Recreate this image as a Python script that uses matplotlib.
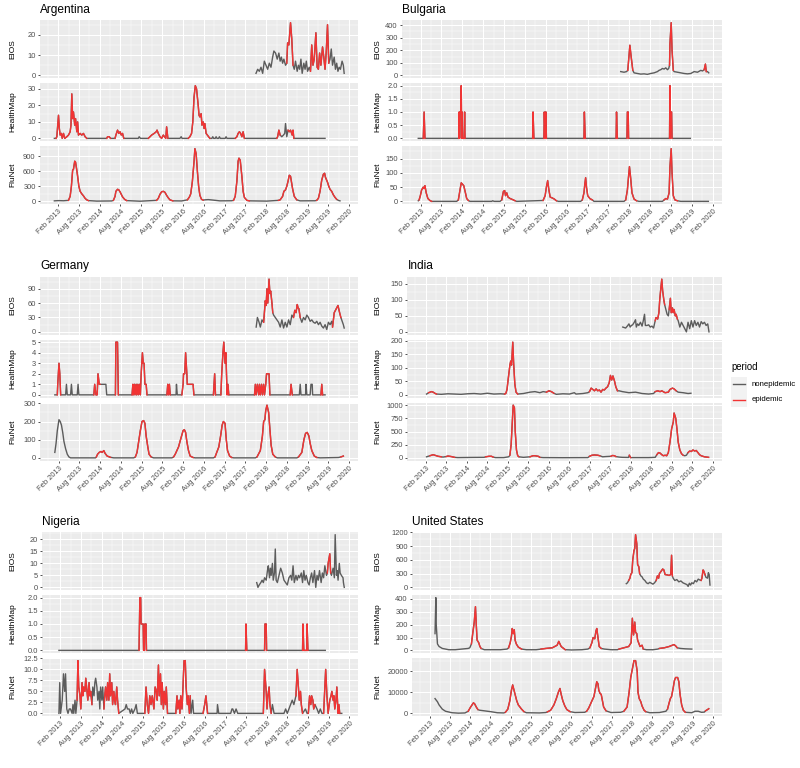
import numpy as np
import matplotlib
matplotlib.use("Agg")
import matplotlib.pyplot as plt
from matplotlib.patches import Rectangle
from matplotlib.lines import Line2D
from datetime import datetime

plt.rcParams['font.family'] = ['Liberation Sans', 'DejaVu Sans']

# x tick labels (6-monthly), time values below are decimal years
X_LABELS = ['Feb 2013', 'Aug 2013', 'Feb 2014', 'Aug 2014', 'Feb 2015', 'Aug 2015',
            'Feb 2016', 'Aug 2016', 'Feb 2017', 'Aug 2017', 'Feb 2018', 'Aug 2018',
            'Feb 2019', 'Aug 2019', 'Feb 2020']
SOURCES = ['EIOS', 'HealthMap', 'FluNet']

# ---------------- Argentina ----------------
ARG_EIOS = [(2017.84,1),(2017.88,3),(2017.92,2),(2017.96,4),(2018.00,1),(2018.04,7),(2018.08,5),(2018.12,3),
            (2018.16,6),(2018.20,4),(2018.24,9),(2018.27,12),(2018.31,11),(2018.35,8),(2018.39,11),(2018.42,7),
            (2018.45,9),(2018.48,6),(2018.51,8),(2018.55,5),(2018.58,6),(2018.60,16),(2018.63,15),(2018.67,26),
            (2018.70,18),(2018.73,5),(2018.76,3),(2018.79,7),(2018.83,2),(2018.86,5),(2018.89,3),(2018.92,8),
            (2018.95,1),(2018.99,6),(2019.02,3),(2019.05,7),(2019.08,2),(2019.12,4),(2019.15,2),(2019.18,15),
            (2019.21,5),(2019.24,8),(2019.28,21),(2019.31,4),(2019.34,3),(2019.37,11),(2019.40,5),(2019.44,14),
            (2019.47,9),(2019.50,3),(2019.53,12),(2019.56,25),(2019.59,6),(2019.62,8),(2019.65,13),(2019.68,5),
            (2019.72,9),(2019.75,3),(2019.78,6),(2019.81,2),(2019.84,4),(2019.87,3),(2019.91,7),(2019.94,5),
            (2019.96,1)]
ARG_EIOS_EPI = [(2018.57, 2018.74), (2019.14, 2019.60)]
ARG_HM = [(2012.99,0),(2013.03,0),(2013.05,1),(2013.09,14),(2013.11,6),(2013.13,2),(2013.16,3),(2013.18,0),
          (2013.21,3),(2013.24,0),(2013.29,1),(2013.33,2),(2013.37,4),(2013.39,8),(2013.41,27),(2013.43,12),
          (2013.45,16),(2013.48,8),(2013.50,12),(2013.53,4),(2013.55,10),(2013.57,2),(2013.61,3),(2013.65,2),
          (2013.69,3),(2013.73,1),(2013.77,0),(2014.25,0),(2014.27,1),(2014.31,1),(2014.34,0),(2014.45,0),
          (2014.47,2),(2014.51,5),(2014.54,3),(2014.57,4),(2014.60,2),(2014.63,3),(2014.66,0),(2015.01,0),
          (2015.03,1),(2015.06,0),(2015.25,0),(2015.29,1),(2015.33,2),(2015.39,3),(2015.44,4),(2015.46,5),
          (2015.49,3),(2015.53,1),(2015.57,0),(2015.61,2),(2015.64,1),(2015.67,0),(2015.69,7),(2015.72,0),
          (2016.01,0),(2016.04,1),(2016.06,0),(2016.21,0),(2016.25,1),(2016.29,3),(2016.32,10),(2016.35,25),
          (2016.38,32),(2016.41,30),(2016.45,20),(2016.47,14),(2016.49,13),(2016.52,15),(2016.54,8),(2016.57,10),
          (2016.59,6),(2016.61,9),(2016.64,3),(2016.67,2),(2016.70,1),(2016.73,0),(2016.78,0),(2016.80,1),
          (2016.82,0),(2016.86,0),(2016.88,1),(2016.90,0),(2016.94,0),(2016.96,1),(2016.98,0),(2017.10,0),
          (2017.12,1),(2017.14,0),(2017.34,0),(2017.38,1),(2017.41,3),(2017.44,4),(2017.47,3),(2017.50,1),
          (2017.53,4),(2017.56,0),(2018.34,0),(2018.36,1),(2018.39,5),(2018.42,2),(2018.46,1),(2018.50,2),
          (2018.53,3),(2018.55,9),(2018.58,1),(2018.61,5),(2018.64,4),(2018.67,5),(2018.71,2),(2018.73,5),
          (2018.75,0),(2019.50,0)]
ARG_HM_EPI = [(2013.02, 2013.78), (2014.24, 2014.35), (2014.44, 2014.67), (2015.24, 2015.73),
              (2016.20, 2016.74), (2017.33, 2017.57), (2018.33, 2018.43), (2018.59, 2018.76)]
ARG_FLU = [(2012.99,10),(2013.09,15),(2013.21,12),(2013.33,20),(2013.37,100),(2013.40,300),(2013.43,620),
           (2013.45,640),(2013.48,800),(2013.50,780),(2013.53,620),(2013.55,500),(2013.58,300),(2013.61,200),
           (2013.65,150),(2013.69,110),(2013.73,60),(2013.77,30),(2013.81,15),(2014.01,5),(2014.37,8),
           (2014.41,20),(2014.45,100),(2014.47,200),(2014.51,240),(2014.54,230),(2014.57,190),(2014.60,140),
           (2014.63,90),(2014.68,40),(2014.73,15),(2015.05,3),(2015.45,20),(2015.49,60),(2015.53,140),
           (2015.57,190),(2015.61,200),(2015.65,180),(2015.69,120),(2015.73,70),(2015.77,30),(2015.84,10),
           (2016.05,8),(2016.19,30),(2016.24,90),(2016.27,150),(2016.31,400),(2016.35,800),(2016.37,1050),
           (2016.40,950),(2016.43,600),(2016.46,300),(2016.49,120),(2016.53,40),(2016.57,25),(2016.61,30),
           (2016.69,35),(2016.81,25),(2016.97,10),(2017.25,12),(2017.30,20),(2017.34,100),(2017.38,400),
           (2017.41,800),(2017.43,860),(2017.46,820),(2017.50,500),(2017.53,200),(2017.56,80),(2017.62,20),
           (2017.68,10),(2018.10,5),(2018.38,20),(2018.42,30),(2018.48,100),(2018.51,200),(2018.55,230),
           (2018.58,300),(2018.61,400),(2018.64,520),(2018.67,500),(2018.69,400),(2018.72,250),(2018.76,100),
           (2018.82,30),(2018.90,10),(2019.26,12),(2019.30,20),(2019.34,60),(2019.38,200),(2019.42,420),
           (2019.46,540),(2019.49,560),(2019.51,480),(2019.56,380),(2019.59,300),(2019.62,240),(2019.66,200),
           (2019.70,130),(2019.74,80),(2019.78,40),(2019.82,20),(2019.86,10)]
ARG_FLU_EPI = [(2013.32, 2013.82), (2014.40, 2014.74), (2015.44, 2015.85), (2016.18, 2016.58),
               (2017.29, 2017.69), (2018.37, 2018.83), (2019.29, 2019.79)]
ARG_TICKS = [[0, 10, 20], [0, 10, 20, 30], [0, 300, 600, 900]]

# ---------------- Bulgaria ----------------
BGR_EIOS = [(2017.88,30),(2017.96,25),(2018.02,30),(2018.05,40),(2018.07,120),(2018.10,240),(2018.13,150),
            (2018.17,40),(2018.20,20),(2018.28,15),(2018.36,10),(2018.44,12),(2018.52,8),(2018.60,15),
            (2018.68,20),(2018.76,30),(2018.80,40),(2018.84,45),(2018.88,55),(2018.92,50),(2018.96,60),
            (2019.00,45),(2019.03,55),(2019.05,80),(2019.06,250),(2019.09,420),(2019.11,200),(2019.14,40),
            (2019.16,30),(2019.24,25),(2019.32,20),(2019.40,15),(2019.48,12),(2019.56,15),(2019.64,30),
            (2019.72,25),(2019.80,40),(2019.84,35),(2019.88,45),(2019.91,90),(2019.93,30),(2019.96,30),
            (2019.99,20)]
BGR_EIOS_EPI = [(2018.04, 2018.18), (2019.04, 2019.15), (2019.87, 2019.94)]
BGR_HM = [(2013.03,0),(2013.15,0),(2013.17,1),(2013.19,0),(2014.00,0),(2014.01,1),(2014.02,0),(2014.03,1),
          (2014.05,1),(2014.06,2),(2014.07,0),(2014.08,1),(2014.09,0),(2014.13,0),(2014.14,1),(2014.15,0),
          (2015.77,0),(2015.78,1),(2015.80,0),(2016.04,0),(2016.05,1),(2016.07,0),(2016.08,1),(2016.09,1),
          (2016.10,0),(2017.00,0),(2017.01,1),(2017.03,0),(2017.77,0),(2017.78,1),(2017.80,0),(2018.03,0),
          (2018.04,1),(2018.06,1),(2018.07,0),(2019.05,0),(2019.06,2),(2019.07,0),(2019.08,1),(2019.10,1),
          (2019.11,0),(2019.55,0)]
BGR_HM_EPI = [(2013.15, 2013.19), (2013.99, 2014.16), (2015.76, 2015.80), (2016.03, 2016.11),
              (2016.99, 2017.03), (2017.76, 2017.80), (2018.02, 2018.07), (2019.04, 2019.11)]
BGR_FLU = [(2013.03,2),(2013.05,5),(2013.08,20),(2013.11,40),(2013.15,50),(2013.17,45),(2013.19,55),
           (2013.22,30),(2013.26,10),(2013.31,3),(2013.35,0),(2013.95,0),(2013.99,5),(2014.03,40),(2014.06,65),
           (2014.09,60),(2014.12,55),(2014.16,30),(2014.19,10),(2014.23,3),(2014.27,0),(2014.79,0),(2014.81,2),
           (2014.85,0),(2014.99,0),(2015.03,5),(2015.07,35),(2015.10,38),(2015.12,20),(2015.15,30),(2015.18,15),
           (2015.23,10),(2015.31,5),(2015.35,2),(2015.39,0),(2016.02,3),(2016.07,20),(2016.10,50),(2016.13,73),
           (2016.16,40),(2016.19,15),(2016.24,12),(2016.29,8),(2016.34,2),(2016.39,0),(2016.92,0),(2016.96,5),
           (2017.00,30),(2017.02,60),(2017.04,83),(2017.06,50),(2017.09,20),(2017.14,10),(2017.20,5),
           (2017.24,0),(2017.96,0),(2018.00,5),(2018.04,40),(2018.07,90),(2018.09,122),(2018.12,80),
           (2018.15,30),(2018.20,8),(2018.26,2),(2018.32,0),(2018.88,0),(2018.92,5),(2018.96,10),(2019.00,8),
           (2019.04,30),(2019.06,120),(2019.09,185),(2019.11,100),(2019.14,20),(2019.16,12),(2019.18,5),
           (2019.24,2),(2019.32,0),(2019.98,0)]
BGR_FLU_EPI = [(2013.04, 2013.36), (2013.98, 2014.24), (2015.02, 2015.36), (2016.01, 2016.35),
               (2016.95, 2017.21), (2017.99, 2018.27), (2018.91, 2019.25)]
BGR_TICKS = [[0, 100, 200, 300, 400], [0, 0.5, 1, 1.5, 2], [0, 50, 100, 150]]

# ---------------- Germany ----------------
DEU_EIOS = [(2017.84,10),(2017.87,30),(2017.91,20),(2017.94,10),(2017.98,25),(2018.02,20),(2018.06,65),
            (2018.08,55),(2018.10,90),(2018.12,60),(2018.15,110),(2018.17,80),(2018.19,85),(2018.22,60),
            (2018.24,40),(2018.26,35),(2018.30,30),(2018.34,25),(2018.38,20),(2018.42,10),(2018.46,25),
            (2018.50,8),(2018.54,20),(2018.58,10),(2018.62,25),(2018.66,15),(2018.70,35),(2018.74,30),
            (2018.77,45),(2018.80,40),(2018.83,57),(2018.85,50),(2018.87,48),(2018.90,30),(2018.94,20),
            (2018.98,30),(2019.02,25),(2019.06,35),(2019.10,30),(2019.14,22),(2019.18,25),(2019.22,20),
            (2019.26,18),(2019.30,22),(2019.34,15),(2019.38,20),(2019.42,12),(2019.46,8),(2019.50,15),
            (2019.54,5),(2019.58,20),(2019.62,15),(2019.66,22),(2019.68,10),(2019.72,40),(2019.75,45),
            (2019.78,50),(2019.81,55),(2019.85,40),(2019.88,30),(2019.90,25),(2019.94,15),(2019.96,8)]
DEU_EIOS_EPI = [(2018.01, 2018.25), (2018.73, 2018.91), (2019.67, 2019.89)]
DEU_HM = [(2012.99,0),(2013.05,0),(2013.06,1),(2013.09,3),(2013.11,2),(2013.13,0),(2013.25,0),(2013.27,1),
          (2013.29,0),(2013.37,0),(2013.39,1),(2013.41,0),(2013.53,0),(2013.55,1),(2013.57,0),(2013.93,0),
          (2013.95,1),(2013.98,0),(2014.01,0),(2014.03,2),(2014.06,1),(2014.08,1),(2014.22,1),(2014.24,0),
          (2014.45,0),(2014.46,5),(2014.50,5),(2014.52,0),(2014.85,0),(2014.87,1),(2014.88,0),(2014.91,1),
          (2014.92,0),(2014.95,1),(2014.96,0),(2014.99,1),(2015.00,0),(2015.03,1),(2015.05,0),(2015.07,2),
          (2015.10,4),(2015.12,3),(2015.14,3),(2015.16,1),(2015.19,1),(2015.21,0),(2015.69,0),(2015.71,1),
          (2015.73,0),(2015.75,1),(2015.77,0),(2015.91,0),(2015.92,1),(2015.94,0),(2016.05,0),(2016.08,1),
          (2016.09,2),(2016.12,2),(2016.14,4),(2016.17,2),(2016.18,1),(2016.32,1),(2016.34,0),(2016.81,0),
          (2016.84,2),(2016.86,0),(2016.99,0),(2017.01,2),(2017.04,4),(2017.06,5),(2017.09,3),(2017.11,4),
          (2017.14,0),(2017.16,1),(2017.18,0),(2017.80,0),(2017.82,1),(2017.84,0),(2017.87,1),(2017.90,0),
          (2017.92,1),(2017.94,0),(2017.97,1),(2017.99,0),(2018.02,1),(2018.04,0),(2018.07,1),(2018.09,2),
          (2018.15,2),(2018.17,0),(2018.66,0),(2018.68,1),(2018.71,0),(2018.88,0),(2018.90,1),(2018.92,0),
          (2019.03,0),(2019.04,1),(2019.06,0),(2019.14,0),(2019.16,1),(2019.19,1),(2019.20,0),(2019.40,0),
          (2019.42,1),(2019.44,0),(2019.50,0)]
DEU_HM_EPI = [(2013.04, 2013.14), (2013.92, 2014.09), (2014.44, 2014.53), (2014.84, 2015.22),
              (2015.68, 2015.78), (2016.04, 2016.35), (2016.80, 2016.87), (2016.98, 2017.19),
              (2017.79, 2018.18), (2018.65, 2018.72), (2019.39, 2019.45)]
DEU_FLU = [(2012.99,30),(2013.02,80),(2013.05,150),(2013.09,210),(2013.12,200),(2013.15,180),(2013.18,140),
           (2013.21,90),(2013.25,50),(2013.29,20),(2013.33,5),(2013.37,0),(2013.97,0),(2013.99,5),(2014.02,20),
           (2014.06,30),(2014.10,35),(2014.13,30),(2014.17,40),(2014.20,25),(2014.25,10),(2014.33,3),
           (2014.41,0),(2014.89,0),(2014.93,5),(2014.97,30),(2015.01,90),(2015.05,150),(2015.09,200),
           (2015.13,205),(2015.16,190),(2015.19,120),(2015.23,60),(2015.26,20),(2015.31,5),(2015.37,0),
           (2015.81,0),(2015.85,5),(2015.89,20),(2015.97,60),(2016.03,110),(2016.08,150),(2016.11,155),
           (2016.14,140),(2016.17,90),(2016.21,40),(2016.25,10),(2016.32,2),(2016.37,0),(2016.81,0),
           (2016.85,5),(2016.89,30),(2016.94,60),(2016.99,130),(2017.02,180),(2017.05,200),(2017.09,190),
           (2017.12,100),(2017.15,40),(2017.20,10),(2017.25,2),(2017.30,0),(2017.82,0),(2017.86,5),
           (2017.94,40),(2017.99,120),(2018.02,200),(2018.05,210),(2018.07,260),(2018.10,290),(2018.14,250),
           (2018.17,160),(2018.20,70),(2018.24,20),(2018.30,5),(2018.35,0),(2018.82,0),(2018.86,5),
           (2018.94,30),(2018.99,100),(2019.03,135),(2019.07,140),(2019.11,120),(2019.14,80),(2019.18,40),
           (2019.24,10),(2019.30,2),(2019.38,0),(2019.82,2),(2019.88,5),(2019.94,10)]
DEU_FLU_EPI = [(2013.98, 2014.34), (2014.92, 2015.32), (2015.84, 2016.33), (2016.84, 2017.26),
               (2017.85, 2018.31), (2018.85, 2019.31), (2019.87, 2019.95)]
DEU_TICKS = [[0, 30, 60, 90], [0, 1, 2, 3, 4, 5], [0, 100, 200, 300]]

# ---------------- India ----------------
IND_EIOS = [(2017.89,15),(2017.96,12),(2018.00,18),(2018.04,25),(2018.07,15),(2018.10,20),(2018.13,22),
            (2018.17,30),(2018.20,38),(2018.22,15),(2018.25,25),(2018.28,20),(2018.32,30),(2018.36,18),
            (2018.39,35),(2018.42,55),(2018.44,20),(2018.48,20),(2018.52,22),(2018.56,15),(2018.60,18),
            (2018.64,12),(2018.68,35),(2018.70,45),(2018.74,40),(2018.77,60),(2018.79,100),(2018.82,140),
            (2018.84,165),(2018.86,130),(2018.89,100),(2018.91,85),(2018.94,70),(2018.97,55),(2019.00,50),
            (2019.02,70),(2019.05,105),(2019.07,60),(2019.10,75),(2019.12,60),(2019.14,70),(2019.17,50),
            (2019.19,55),(2019.22,40),(2019.24,35),(2019.28,15),(2019.32,30),(2019.36,20),(2019.40,10),
            (2019.44,0),(2019.48,30),(2019.52,10),(2019.56,35),(2019.60,15),(2019.64,35),(2019.68,20),
            (2019.72,30),(2019.76,15),(2019.80,32),(2019.84,25),(2019.88,30),(2019.92,20),(2019.96,25),
            (2019.99,0)]
IND_EIOS_EPI = [(2018.67, 2018.92), (2019.01, 2019.23)]
IND_HM = [(2013.11,3),(2013.16,8),(2013.23,12),(2013.27,10),(2013.31,6),(2013.35,3),(2013.47,2),(2013.63,4),
          (2013.79,3),(2013.95,2),(2014.11,4),(2014.27,5),(2014.43,3),(2014.59,6),(2014.75,3),(2014.91,4),
          (2015.01,3),(2015.04,5),(2015.07,20),(2015.10,60),(2015.14,110),(2015.16,125),(2015.18,110),
          (2015.21,195),(2015.23,120),(2015.26,40),(2015.29,10),(2015.33,3),(2015.47,5),(2015.63,10),
          (2015.75,12),(2015.87,8),(2015.95,12),(2016.03,10),(2016.09,15),(2016.15,12),(2016.21,6),
          (2016.27,2),(2016.43,4),(2016.59,3),(2016.71,8),(2016.75,3),(2016.92,5),(2017.04,8),(2017.08,12),
          (2017.12,25),(2017.16,20),(2017.20,15),(2017.24,22),(2017.28,15),(2017.32,18),(2017.36,10),
          (2017.40,20),(2017.44,18),(2017.48,25),(2017.52,30),(2017.56,45),(2017.59,72),(2017.62,55),
          (2017.65,70),(2017.69,50),(2017.72,30),(2017.76,15),(2017.80,15),(2017.88,12),(2018.04,8),
          (2018.20,10),(2018.36,5),(2018.52,3),(2018.64,5),(2018.68,12),(2018.74,15),(2018.80,12),
          (2018.84,15),(2018.92,8),(2019.00,10),(2019.04,20),(2019.10,25),(2019.14,22),(2019.19,15),
          (2019.24,10),(2019.36,8),(2019.48,5),(2019.55,6)]
IND_HM_EPI = [(2013.15, 2013.36), (2015.00, 2015.34), (2016.02, 2016.22), (2017.07, 2017.77),
              (2018.67, 2019.20)]
IND_FLU = [(2013.11,20),(2013.19,40),(2013.27,60),(2013.31,50),(2013.39,30),(2013.47,20),(2013.51,15),
           (2013.59,25),(2013.63,35),(2013.71,25),(2013.79,10),(2013.87,5),(2014.19,8),(2014.51,10),
           (2014.55,20),(2014.63,30),(2014.69,30),(2014.73,15),(2014.79,5),(2014.99,5),(2015.11,20),
           (2015.14,50),(2015.17,250),(2015.20,700),(2015.22,1000),(2015.25,950),(2015.27,500),(2015.30,150),
           (2015.33,40),(2015.36,20),(2015.47,10),(2015.63,20),(2015.70,40),(2015.75,40),(2015.83,30),
           (2015.87,10),(2015.95,5),(2016.43,3),(2017.04,5),(2017.08,30),(2017.14,50),(2017.20,55),
           (2017.28,50),(2017.33,40),(2017.40,20),(2017.48,25),(2017.60,30),(2017.64,45),(2017.69,40),
           (2017.72,25),(2017.80,15),(2017.88,10),(2018.03,8),(2018.05,50),(2018.08,5),(2018.20,5),
           (2018.52,5),(2018.68,10),(2018.72,60),(2018.76,100),(2018.80,90),(2018.84,60),(2018.88,40),
           (2018.92,50),(2018.96,40),(2019.00,100),(2019.04,300),(2019.08,550),(2019.12,680),(2019.14,850),
           (2019.18,750),(2019.21,550),(2019.24,300),(2019.28,150),(2019.32,80),(2019.36,50),(2019.40,40),
           (2019.44,50),(2019.48,100),(2019.52,130),(2019.56,120),(2019.60,150),(2019.64,130),(2019.68,140),
           (2019.72,100),(2019.76,60),(2019.80,40),(2019.88,20),(2019.98,10)]
IND_FLU_EPI = [(2013.18, 2013.48), (2013.58, 2013.80), (2014.54, 2014.74), (2015.13, 2015.37),
               (2015.62, 2015.88), (2017.07, 2017.34), (2017.59, 2017.73), (2018.04, 2018.09),
               (2018.71, 2019.37), (2019.47, 2019.99)]
IND_TICKS = [[0, 50, 100, 150], [0, 50, 100, 150, 200], [0, 250, 500, 750, 1000]]

# ---------------- Nigeria ----------------
NGA_EIOS = [(2017.84,2),(2017.87,0),(2017.90,1),(2017.94,2),(2017.97,3),(2018.00,2),(2018.03,4),(2018.07,3),
            (2018.10,7),(2018.12,9),(2018.15,4),(2018.17,8),(2018.19,5),(2018.22,10),(2018.24,3),(2018.27,6),
            (2018.29,16),(2018.31,3),(2018.34,2),(2018.38,5),(2018.42,8),(2018.46,6),(2018.50,3),(2018.54,2),
            (2018.58,1),(2018.62,4),(2018.66,5),(2018.69,3),(2018.72,9),(2018.75,2),(2018.79,5),(2018.82,3),
            (2018.85,5),(2018.88,4),(2018.92,6),(2018.95,2),(2018.98,7),(2019.01,3),(2019.04,5),(2019.08,2),
            (2019.11,1),(2019.14,4),(2019.17,6),(2019.20,2),(2019.24,7),(2019.27,0),(2019.30,5),(2019.33,3),
            (2019.36,7),(2019.40,2),(2019.43,6),(2019.46,4),(2019.49,9),(2019.53,5),(2019.55,6),(2019.57,10),
            (2019.61,14),(2019.63,6),(2019.65,5),(2019.69,8),(2019.72,4),(2019.74,22),(2019.77,5),(2019.79,7),
            (2019.81,3),(2019.84,10),(2019.86,6),(2019.89,5),(2019.93,4),(2019.94,2),(2019.96,0)]
NGA_EIOS_EPI = [(2019.54, 2019.64)]
NGA_HM = [(2013.05,0),(2014.99,0),(2015.01,2),(2015.03,2),(2015.04,1),(2015.09,1),(2015.10,0),(2015.12,0),
          (2015.13,1),(2015.16,1),(2015.17,0),(2017.57,0),(2017.58,1),(2017.60,0),(2018.03,0),(2018.04,1),
          (2018.07,1),(2018.08,0),(2018.95,0),(2018.96,1),(2018.98,0),(2019.05,0),(2019.06,1),(2019.08,0),
          (2019.50,0)]
NGA_HM_EPI = [(2014.98, 2015.18), (2017.56, 2017.61), (2018.02, 2018.09), (2018.94, 2019.09)]
NGA_FLU = [(2013.05,0),(2013.07,7),(2013.09,0),(2013.13,3),(2013.16,9),(2013.19,5),(2013.21,9),(2013.24,1),
           (2013.27,0),(2013.30,1),(2013.33,1),(2013.37,0),(2013.39,2),(2013.41,0),(2013.44,3),(2013.46,0),
           (2013.49,3),(2013.51,12),(2013.53,6),(2013.56,4),(2013.58,1),(2013.61,7),(2013.63,4),(2013.65,6),
           (2013.68,5),(2013.70,8),(2013.73,5),(2013.75,3),(2013.78,7),(2013.80,4),(2013.82,5),(2013.85,2),
           (2013.87,6),(2013.90,4),(2013.92,7),(2013.94,8),(2013.97,6),(2013.99,3),(2014.02,5),(2014.04,1),
           (2014.06,6),(2014.09,3),(2014.11,6),(2014.14,1),(2014.16,4),(2014.18,6),(2014.21,3),(2014.23,7),
           (2014.26,3),(2014.28,9),(2014.30,4),(2014.33,7),(2014.35,2),(2014.38,5),(2014.40,3),(2014.42,2),
           (2014.45,6),(2014.47,3),(2014.50,0),(2014.65,1),(2014.68,2),(2014.71,1),(2014.75,1),(2014.78,0),
           (2014.81,1),(2014.84,0),(2014.89,1),(2014.92,2),(2014.95,0),(2015.13,0),(2015.16,6),(2015.19,2),
           (2015.22,0),(2015.25,4),(2015.28,2),(2015.31,4),(2015.35,1),(2015.38,6),(2015.41,5),(2015.43,3),
           (2015.46,11),(2015.48,4),(2015.51,9),(2015.53,2),(2015.55,7),(2015.58,1),(2015.60,5),(2015.63,2),
           (2015.65,6),(2015.68,0),(2015.88,0),(2015.91,4),(2015.93,1),(2015.96,3),(2015.98,0),(2016.00,4),
           (2016.03,1),(2016.05,5),(2016.08,12),(2016.11,12),(2016.13,6),(2016.16,2),(2016.18,4),(2016.21,0),
           (2016.23,4),(2016.25,0),(2016.29,3),(2016.31,0),(2016.54,0),(2016.58,2),(2016.61,4),(2016.65,0),
           (2016.88,0),(2016.89,2),(2016.92,0),(2017.21,0),(2017.24,1),(2017.26,1),(2017.30,0),(2017.34,1),
           (2017.38,0),(2018.00,0),(2018.03,10),(2018.07,5),(2018.09,1),(2018.11,4),(2018.14,6),(2018.16,2),
           (2018.19,0),(2018.22,2),(2018.26,0),(2018.50,0),(2018.54,1),(2018.58,0),(2018.62,1),(2018.66,2),
           (2018.70,3),(2018.74,2),(2018.79,4),(2018.82,10),(2018.85,6),(2018.87,3),(2018.90,5),(2018.92,2),
           (2018.95,0),(2019.02,1),(2019.06,0),(2019.09,0),(2019.12,4),(2019.15,2),(2019.17,4),(2019.20,3),
           (2019.22,1),(2019.25,2),(2019.30,1),(2019.34,0),(2019.38,1),(2019.42,0),(2019.46,0),(2019.51,10),
           (2019.54,4),(2019.57,0),(2019.61,3),(2019.64,4),(2019.66,5),(2019.69,3),(2019.71,4),(2019.73,1),
           (2019.76,3),(2019.78,6),(2019.81,0),(2019.83,2),(2019.85,0),(2019.90,0)]
NGA_FLU_EPI = [(2013.47, 2013.85), (2014.13, 2014.50), (2015.12, 2015.69), (2015.87, 2016.24),
               (2016.53, 2016.66), (2017.99, 2018.20), (2018.78, 2018.96), (2019.08, 2019.26),
               (2019.45, 2019.86)]
NGA_TICKS = [[0, 5, 10, 15, 20], [0, 0.5, 1, 1.5, 2], [0, 2.5, 5, 7.5, 10, 12.5]]

# ---------------- United States ----------------
USA_EIOS = [(2017.94,80),(2017.97,100),(2018.00,150),(2018.03,200),(2018.05,280),(2018.08,320),(2018.10,600),
            (2018.13,800),(2018.15,850),(2018.17,1150),(2018.20,950),(2018.22,500),(2018.25,450),(2018.27,300),
            (2018.30,250),(2018.33,230),(2018.36,180),(2018.40,150),(2018.44,100),(2018.48,80),(2018.52,110),
            (2018.56,90),(2018.60,70),(2018.64,100),(2018.68,150),(2018.71,250),(2018.74,200),(2018.76,300),
            (2018.80,350),(2018.84,400),(2018.87,380),(2018.90,280),(2018.96,270),(2019.00,260),(2019.04,280),
            (2019.06,700),(2019.08,250),(2019.10,200),(2019.14,150),(2019.19,170),(2019.24,120),(2019.29,140),
            (2019.34,100),(2019.39,80),(2019.44,60),(2019.47,20),(2019.50,90),(2019.53,50),(2019.56,100),
            (2019.60,80),(2019.64,150),(2019.68,120),(2019.72,180),(2019.76,160),(2019.79,150),(2019.81,200),
            (2019.84,380),(2019.86,350),(2019.89,270),(2019.91,220),(2019.95,200),(2019.97,320),(2019.99,280),
            (2020.01,50)]
USA_EIOS_EPI = [(2017.99, 2018.28), (2018.67, 2019.09), (2019.78, 2019.90)]
USA_HM = [(2013.21,130),(2013.23,410),(2013.24,200),(2013.27,50),(2013.31,30),(2013.39,15),(2013.55,5),
          (2013.71,5),(2013.87,10),(2014.03,15),(2014.07,20),(2014.11,50),(2014.15,150),(2014.18,220),
          (2014.21,340),(2014.23,200),(2014.25,80),(2014.29,60),(2014.32,30),(2014.35,15),(2014.43,5),
          (2014.59,5),(2014.83,5),(2014.99,10),(2015.03,20),(2015.07,60),(2015.10,110),(2015.12,170),
          (2015.14,140),(2015.15,130),(2015.17,160),(2015.19,80),(2015.22,50),(2015.27,25),(2015.35,10),
          (2015.47,5),(2015.71,5),(2015.79,8),(2015.83,10),(2015.95,15),(2016.11,20),(2016.23,40),
          (2016.27,70),(2016.30,50),(2016.33,30),(2016.37,20),(2016.43,5),(2016.59,3),(2016.84,5),
          (2016.99,10),(2017.04,20),(2017.09,60),(2017.12,100),(2017.16,90),(2017.19,150),(2017.21,170),
          (2017.24,100),(2017.27,30),(2017.32,15),(2017.40,10),(2017.56,5),(2017.72,5),(2017.76,10),
          (2017.88,20),(2018.00,30),(2018.06,60),(2018.09,250),(2018.12,120),(2018.15,220),(2018.17,140),
          (2018.20,130),(2018.22,80),(2018.28,30),(2018.33,40),(2018.36,10),(2018.44,5),(2018.60,5),
          (2018.72,10),(2018.76,15),(2018.88,20),(2019.00,30),(2019.08,40),(2019.12,45),(2019.16,35),
          (2019.20,20),(2019.28,15),(2019.40,12),(2019.56,10)]
USA_HM_EPI = [(2014.10, 2014.36), (2015.02, 2015.36), (2015.82, 2016.44), (2017.03, 2017.33),
              (2017.75, 2018.37), (2018.75, 2019.21)]
USA_FLU = [(2013.21,7000),(2013.27,5500),(2013.31,4000),(2013.39,2000),(2013.47,1000),(2013.63,300),
           (2013.79,100),(2013.95,200),(2014.03,1000),(2014.09,3000),(2014.16,5000),(2014.19,4500),
           (2014.23,3000),(2014.27,1800),(2014.31,1500),(2014.43,1200),(2014.59,800),(2014.75,300),
           (2014.91,200),(2014.95,500),(2015.01,2000),(2015.06,6000),(2015.10,11000),(2015.13,13500),
           (2015.15,12000),(2015.19,9000),(2015.23,6000),(2015.27,4000),(2015.31,3000),(2015.35,2000),
           (2015.41,800),(2015.47,300),(2015.79,200),(2015.95,400),(2015.99,700),(2016.07,1500),(2016.15,4000),
           (2016.21,7000),(2016.26,10000),(2016.30,11800),(2016.33,9000),(2016.37,6000),(2016.42,3500),
           (2016.47,1800),(2016.55,800),(2016.67,400),(2016.91,500),(2016.96,1000),(2017.01,2500),
           (2017.08,5500),(2017.14,8000),(2017.18,12000),(2017.21,15000),(2017.24,14000),(2017.26,11000),
           (2017.29,9500),(2017.32,9000),(2017.35,6000),(2017.38,3000),(2017.44,1200),(2017.56,400),
           (2017.80,500),(2017.88,1000),(2017.96,3000),(2018.01,10000),(2018.05,17000),(2018.09,21000),
           (2018.13,25000),(2018.17,25000),(2018.21,20000),(2018.23,10000),(2018.26,7000),(2018.30,5500),
           (2018.33,3500),(2018.38,1500),(2018.42,800),(2018.52,300),(2018.76,400),(2018.92,1000),
           (2018.96,2000),(2019.00,5000),(2019.03,7000),(2019.06,8000),(2019.10,12000),(2019.13,15500),
           (2019.16,17000),(2019.21,17000),(2019.24,15000),(2019.27,9000),(2019.31,4000),(2019.35,1500),
           (2019.40,500),(2019.56,300),(2019.64,1000),(2019.72,1000),(2019.80,500),(2019.87,600),
           (2019.90,1200),(2019.95,1800),(2019.98,2200)]
USA_FLU_EPI = [(2014.02, 2014.28), (2014.94, 2015.42), (2015.98, 2016.56), (2016.95, 2017.45),
               (2017.87, 2018.43), (2018.95, 2019.41), (2019.89, 2019.99)]
USA_TICKS = [[0, 300, 600, 900, 1200], [0, 100, 200, 300, 400], [0, 10000, 20000]]

COUNTRIES = [
    ('Argentina', [(ARG_EIOS, ARG_EIOS_EPI), (ARG_HM, ARG_HM_EPI), (ARG_FLU, ARG_FLU_EPI)], ARG_TICKS),
    ('Bulgaria', [(BGR_EIOS, BGR_EIOS_EPI), (BGR_HM, BGR_HM_EPI), (BGR_FLU, BGR_FLU_EPI)], BGR_TICKS),
    ('Germany', [(DEU_EIOS, DEU_EIOS_EPI), (DEU_HM, DEU_HM_EPI), (DEU_FLU, DEU_FLU_EPI)], DEU_TICKS),
    ('India', [(IND_EIOS, IND_EIOS_EPI), (IND_HM, IND_HM_EPI), (IND_FLU, IND_FLU_EPI)], IND_TICKS),
    ('Nigeria', [(NGA_EIOS, NGA_EIOS_EPI), (NGA_HM, NGA_HM_EPI), (NGA_FLU, NGA_FLU_EPI)], NGA_TICKS),
    ('United States', [(USA_EIOS, USA_EIOS_EPI), (USA_HM, USA_HM_EPI), (USA_FLU, USA_FLU_EPI)], USA_TICKS),
]

GREY = '#5c5c5c'
RED = '#f23434'
BG = '#ebebeb'
W, H = 800, 768


def decimal_year(label):
    d = datetime.strptime(label, '%b %Y')
    start = datetime(d.year, 1, 1)
    return d.year + (d - start).days / 365.0


def midpoints(ticks, lo, hi):
    ticks = list(ticks)
    step = ticks[1] - ticks[0]
    ext = [ticks[0] - step] + ticks + [ticks[-1] + step]
    mids = [(a + b) / 2 for a, b in zip(ext[:-1], ext[1:])]
    return [m for m in mids if lo < m < hi]


x_ticks = [decimal_year(s) for s in X_LABELS]
XLIM = (2012.633, 2020.30)

fig = plt.figure(figsize=(W / 100, H / 100), dpi=100)
fig.patch.set_facecolor('white')

# panel left edge per country (depends on the tick label width, as in the original)
PANEL_LEFT = [39.5, 401.7, 40.0, 407.0, 41.7, 411.7]
PANEL_RIGHT = [358.3, 721.7]
YLAB_X = [13.0, 378.0]
ROW_TOP = [20.0, 276.5, 532.0]
PH, GAP = 58.0, 5.0

for idx, (name, series, ticks) in enumerate(COUNTRIES):
    col, row = idx % 2, idx // 2
    left = PANEL_LEFT[idx]
    pw = PANEL_RIGHT[col] - left
    top0 = ROW_TOP[row]
    fig.text((left + 0.5) / W, 1 - (top0 - 10) / H, name, fontsize=8.6,
             ha='left', va='center', color='black')
    for k, ((pts, epi), yt) in enumerate(zip(series, ticks)):
        top = top0 + k * (PH + GAP)
        ax = fig.add_axes([left / W, 1 - (top + PH) / H, pw / W, PH / H])
        ax.set_facecolor(BG)
        for s in ax.spines.values():
            s.set_visible(False)
        t = np.array([p[0] for p in pts])
        v = np.array([p[1] for p in pts], dtype=float)
        vmin, vmax = min(v.min(), 0), v.max()
        r = vmax - vmin
        ylim = (vmin - 0.05 * r, vmax + 0.05 * r)
        ax.set_xlim(*XLIM)
        ax.set_ylim(*ylim)

        # grid
        for xm in midpoints(x_ticks, *XLIM):
            ax.axvline(xm, color='white', lw=0.35, zorder=0)
        for ym in midpoints(yt, *ylim):
            ax.axhline(ym, color='white', lw=0.35, zorder=0)
        for xt in x_ticks:
            ax.axvline(xt, color='white', lw=0.75, zorder=0)
        for ytk in yt:
            ax.axhline(ytk, color='white', lw=0.75, zorder=0)

        ax.plot(t, v, color=GREY, lw=1.0, zorder=2, solid_joinstyle='round')
        for a, b in epi:
            m = (t >= a) & (t <= b)
            ax.plot(t[m], v[m], color=RED, lw=1.0, zorder=3, solid_joinstyle='round')

        ax.set_yticks(yt)
        if any(float(x) != int(x) for x in yt):
            ax.set_yticklabels(['%.1f' % x for x in yt])
        else:
            ax.set_yticklabels([str(int(x)) for x in yt])
        ax.tick_params(axis='y', length=1.6, width=0.6, color='#333333', pad=1.2,
                       labelsize=5.4, labelcolor='#4d4d4d')
        ax.set_xticks(x_ticks)
        if k == 2:
            ax.set_xticklabels(X_LABELS)
            ax.tick_params(axis='x', length=1.6, width=0.6, color='#333333', pad=1.5,
                           labelsize=5.4, labelcolor='#4d4d4d')
            for lab in ax.get_xticklabels():
                lab.set_rotation(45)
                lab.set_ha('right')
                lab.set_va('top')
                lab.set_rotation_mode('anchor')
        else:
            ax.set_xticklabels([])
            ax.tick_params(axis='x', length=0)
        fig.text(YLAB_X[col] / W, 1 - (top + PH / 2) / H, SOURCES[k], rotation=90,
                 fontsize=6.0, ha='center', va='center', color='black')

# legend
fig.text(731.5 / W, 1 - 366.5 / H, 'period', fontsize=6.9, ha='left', va='center')
for j, (lab, c) in enumerate([('nonepidemic', GREY), ('epidemic', RED)]):
    cy = 384.0 + j * 15.5
    fig.patches.append(Rectangle((731.0 / W, 1 - (cy + 7.5) / H), 15.5 / W, 15.0 / H,
                                 transform=fig.transFigure, facecolor='#f2f2f2',
                                 edgecolor='none'))
    fig.lines.append(Line2D([733.0 / W, 745.0 / W], [1 - cy / H, 1 - cy / H],
                            transform=fig.transFigure, color=c, lw=1.0))
    fig.text(751.5 / W, 1 - cy / H, lab, fontsize=5.6, ha='left', va='center')

fig.savefig('out.png', dpi=100, facecolor='white')
